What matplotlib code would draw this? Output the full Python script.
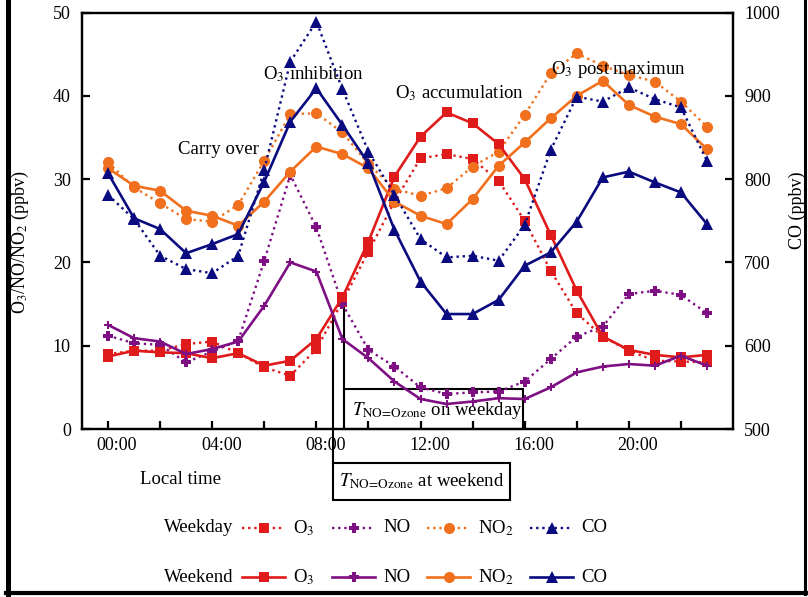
import matplotlib
matplotlib.use("Agg")
import matplotlib.pyplot as plt
import matplotlib.transforms as mtransforms
from matplotlib.lines import Line2D
from matplotlib.patches import Rectangle
import numpy as np

plt.rcParams['font.family'] = ['Liberation Serif', 'DejaVu Serif']
plt.rcParams['mathtext.fontset'] = 'stix'

# ---------------- data ----------------
hours = list(range(24))
tick_hours = [0, 4, 8, 12, 16, 20]
tick_labels = ["00:00", "04:00", "08:00", "12:00", "16:00", "20:00"]

wd_o3 = [9.0, 9.4, 9.4, 10.2, 10.5, 9.1, 7.4, 6.4, 9.6, 15.3, 21.3, 27.3,
         32.5, 33.0, 32.4, 29.8, 25.0, 19.0, 13.9, 11.1, 9.4, 8.2, 8.1, 8.0]
we_o3 = [8.7, 9.4, 9.2, 9.1, 8.5, 9.1, 7.6, 8.2, 10.8, 15.8, 22.5, 30.3,
         35.1, 38.0, 36.7, 34.2, 30.0, 23.3, 16.6, 11.1, 9.5, 8.9, 8.6, 8.9]
wd_no = [11.2, 10.3, 10.1, 8.0, 9.3, 10.6, 20.2, 30.5, 24.2, 15.0, 9.5, 7.5,
         5.0, 4.2, 4.4, 4.5, 5.7, 8.4, 11.1, 12.3, 16.2, 16.6, 16.1, 13.9]
we_no = [12.5, 10.9, 10.5, 9.0, 9.6, 10.5, 14.8, 20.0, 18.9, 10.8, 8.5, 5.7,
         3.6, 3.0, 3.3, 3.7, 3.6, 5.0, 6.8, 7.5, 7.8, 7.6, 8.8, 7.6]
wd_no2 = [32.0, 29.0, 27.1, 25.2, 24.9, 26.9, 32.2, 37.8, 37.9, 35.6, 31.8, 28.8,
          28.0, 28.9, 31.5, 33.3, 37.7, 42.7, 45.1, 43.6, 42.5, 41.7, 39.3, 36.3]
we_no2 = [31.3, 29.2, 28.6, 26.2, 25.6, 24.4, 27.3, 30.9, 33.9, 33.0, 31.3, 27.3,
          25.6, 24.6, 27.6, 31.6, 34.4, 37.3, 40.0, 41.8, 38.9, 37.5, 36.6, 33.6]
wd_co = [781, 752, 708, 692, 687, 708, 811, 941, 989, 908, 833, 781,
         728, 706, 708, 702, 745, 835, 899, 893, 910, 896, 886, 822]
we_co = [807, 753, 740, 711, 722, 734, 797, 869, 909, 865, 819, 739,
         677, 638, 638, 655, 696, 712, 749, 802, 809, 796, 784, 746]

# crossing times (hours) and levels for the annotation
t_cross_weekday, y_cross_weekday = 9.07, 15.1
t_cross_weekend, y_cross_weekend = 8.63, 14.1

# ---------------- style ----------------
C_O3 = '#E01B1B'
C_NO = '#7E1083'
C_NO2 = '#F0701E'
C_CO = '#0B0B80'
DOT = (0, (1.0, 1.6))
LW_S = 1.9
LW_D = 1.7

W, H = 808, 597
fig = plt.figure(figsize=(W / 100, H / 100), dpi=100)

def fx(x):
    return x / W

def fy(y):
    return 1 - y / H

ax_l, ax_r, ax_t, ax_b = 82, 733, 12.5, 429
ax = fig.add_axes([fx(ax_l), fy(ax_b), (ax_r - ax_l) / W, (ax_b - ax_t) / H])
ax2 = ax.twinx()

MS_SQ, MS_PL, MS_CI, MS_TR = 7.5, 6.5, 8, 9
series = [
    (ax, wd_o3, C_O3, 's', MS_SQ, DOT, LW_D),
    (ax, wd_no, C_NO, 'P', MS_PL, DOT, LW_D),
    (ax, wd_no2, C_NO2, 'o', MS_CI, DOT, LW_D),
    (ax2, wd_co, C_CO, '^', MS_TR, DOT, LW_D),
    (ax, we_o3, C_O3, 's', MS_SQ, '-', LW_S),
    (ax, we_no, C_NO, 'P', 5.5, '-', LW_S),
    (ax, we_no2, C_NO2, 'o', MS_CI, '-', LW_S),
    (ax2, we_co, C_CO, '^', MS_TR, '-', LW_S),
]
for a, vals, c, m, ms, ls, lw in series:
    a.plot(hours, vals, color=c, marker=m, markersize=ms, linestyle=ls,
           linewidth=lw, markeredgewidth=0, clip_on=False)

ax.set_xlim(-1, 24)
ax.set_ylim(0, 50)
ax2.set_ylim(500, 1000)
ax.set_yticks(range(0, 51, 10))
ax2.set_yticks(range(500, 1001, 100))
ax.set_xticks(tick_hours)
ax.set_xticklabels(tick_labels)
ax.set_xticks([2, 6, 10, 14, 18, 22], minor=True)

for a in (ax, ax2):
    for s in a.spines.values():
        s.set_linewidth(1.6)
ax.tick_params(axis='both', which='both', direction='in', length=6, width=1.6,
               labelsize=13)
ax.tick_params(axis='y', pad=8)
ax.tick_params(axis='x', pad=6)
ax2.tick_params(axis='y', direction='in', length=6, width=1.6, labelsize=13, pad=8)

offset = mtransforms.ScaledTranslation(9 / 100, 0, fig.dpi_scale_trans)
for lab in ax.get_xticklabels():
    lab.set_transform(lab.get_transform() + offset)

fig.text(fx(20), fy(242), r"O$_3$/NO/NO$_2$ (ppbv)", rotation=90,
         ha='center', va='center', fontsize=13)
fig.text(fx(797), fy(210), "CO (ppbv)", rotation=90,
         ha='center', va='center', fontsize=13)
fig.text(fx(181), fy(480), "Local time", ha='center', va='center', fontsize=13.5)

# annotations
ANN = 13.5
ax.text(7.9, 42.6, r"O$_3$ inhibition", ha='center', va='center', fontsize=ANN)
ax.text(4.25, 33.6, "Carry over", ha='center', va='center', fontsize=ANN)
ax.text(13.5, 40.3, r"O$_3$ accumulation", ha='center', va='center', fontsize=ANN)
ax.text(19.6, 43.1, r"O$_3$ post maximun", ha='center', va='center', fontsize=ANN)

# weekday crossing marker and box
LWB = 1.5
ax.plot([t_cross_weekday, t_cross_weekday], [0, y_cross_weekday], color='black',
        lw=LWB, clip_on=False, zorder=1)
ax.add_patch(Rectangle((t_cross_weekday, 0), 15.94 - t_cross_weekday, 4.8,
                       fill=False, edgecolor='black', lw=LWB, clip_on=False, zorder=1))
ax.text(t_cross_weekday + 0.3, 2.2, r"$T_{\mathrm{NO\!=\!Ozone}}$ on weekday",
        ha='left', va='center', fontsize=13.5, zorder=1)

# weekend crossing marker and box
ax.plot([t_cross_weekend, t_cross_weekend], [-4.08, y_cross_weekend], color='black',
        lw=LWB, clip_on=False, zorder=1)
ax.add_patch(Rectangle((t_cross_weekend, -8.52), 15.44 - t_cross_weekend, 4.44,
                       fill=False, edgecolor='black', lw=LWB, clip_on=False, zorder=1))
ax.text((t_cross_weekend + 15.44) / 2, -6.3, r"$T_{\mathrm{NO\!=\!Ozone}}$ at weekend",
        ha='center', va='center', fontsize=13.5, zorder=1)

# legend (manual)
LEG = 13.5
starts = [242, 332, 427, 530]
hlen = 43
names = [r"O$_3$", "NO", r"NO$_2$", "CO"]
rows = [("Weekday", 528, DOT, LW_D), ("Weekend", 577, '-', LW_S)]
specs = [(C_O3, 's', MS_SQ), (C_NO, 'P', MS_PL), (C_NO2, 'o', MS_CI), (C_CO, '^', MS_TR)]
for title, yy, ls, lw in rows:
    fig.text(fx(233), fy(yy), title, ha='right', va='center', fontsize=LEG)
    for x0, name, (c, m, ms) in zip(starts, names, specs):
        xs = [fx(x0), fx(x0 + hlen / 2), fx(x0 + hlen)]
        fig.add_artist(Line2D(xs, [fy(yy)] * 3, color=c, linestyle=ls, linewidth=lw,
                              marker=m, markersize=ms, markevery=[1],
                              markeredgewidth=0, transform=fig.transFigure))
        fig.text(fx(x0 + hlen + 8), fy(yy), name, ha='left', va='center', fontsize=LEG)

# picture frame (left, right, bottom)
fig.add_artist(Line2D([fx(7.5), fx(7.5)], [fy(0), fy(594)], color='black', lw=3.6,
                      transform=fig.transFigure))
fig.add_artist(Line2D([fx(805), fx(805)], [fy(0), fy(594)], color='black', lw=2.2,
                      transform=fig.transFigure))
fig.add_artist(Line2D([fx(6), fx(806)], [fy(593), fy(593)], color='black', lw=3.0,
                      transform=fig.transFigure))

fig.savefig("out.png", dpi=100)
